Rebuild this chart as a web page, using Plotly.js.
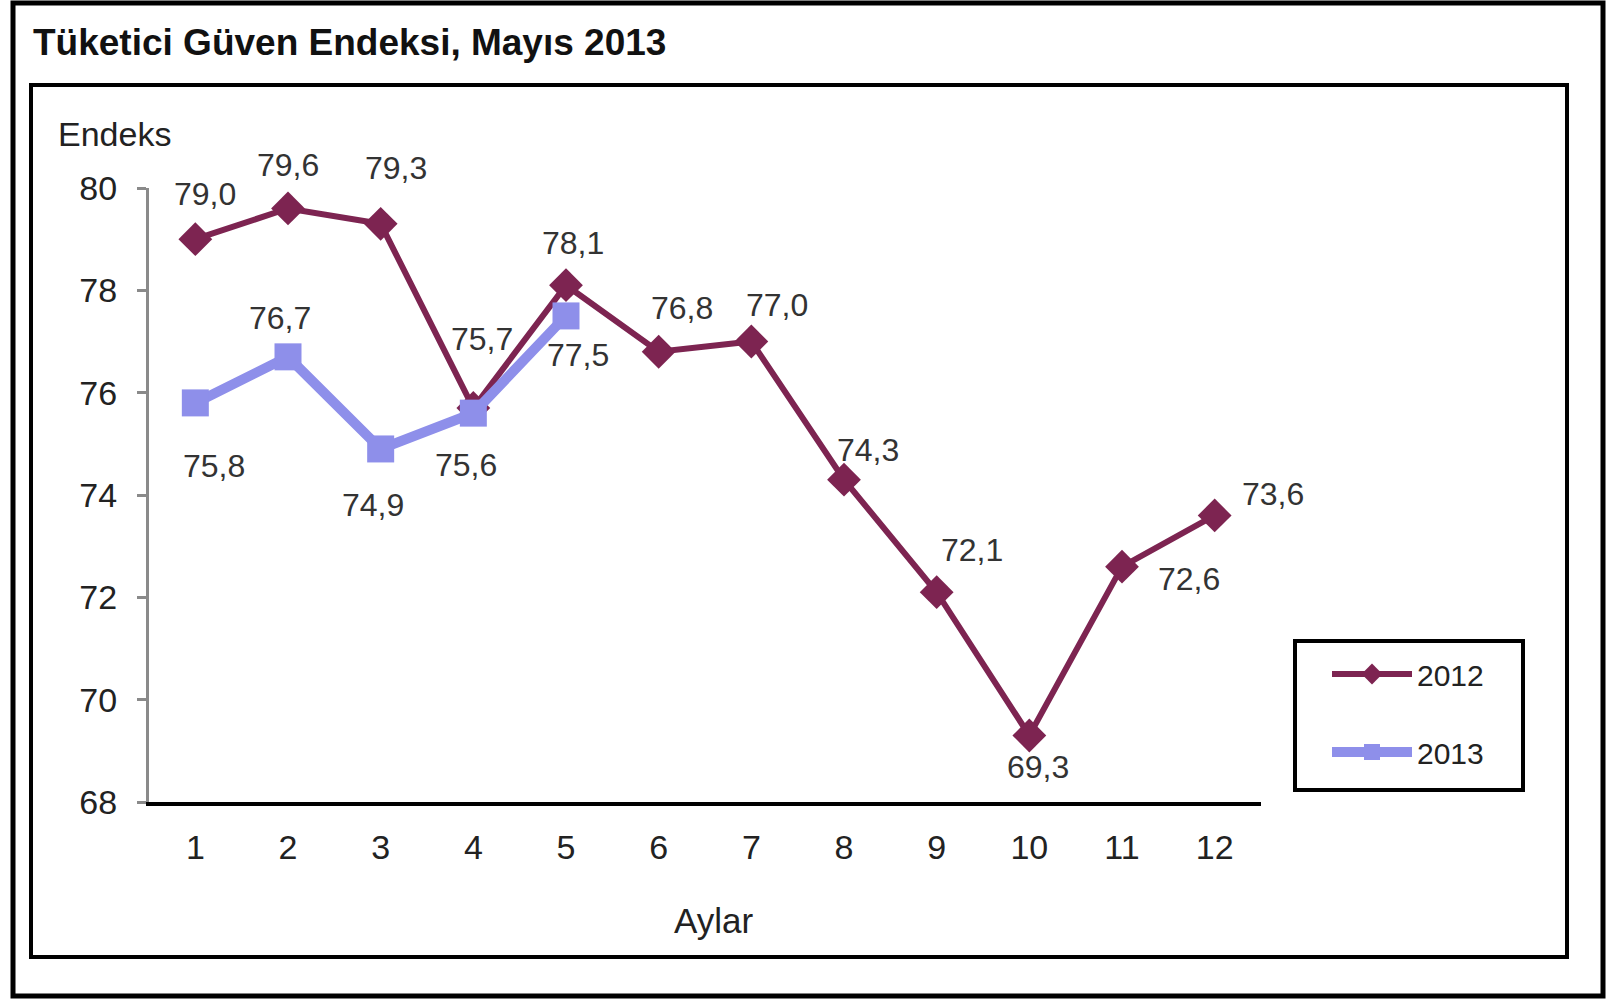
<!DOCTYPE html>
<html>
<head>
<meta charset="utf-8">
<script src="https://cdn.plot.ly/plotly-3.0.1.min.js"></script>
<style>
  html, body { margin: 0; padding: 0; background: #ffffff; }
  #chart { width: 1614px; height: 999px; }
</style>
</head>
<body>
<div id="chart"></div>
<script>
// ---- data ----
const months = [1, 2, 3, 4, 5, 6, 7, 8, 9, 10, 11, 12];
const monthLabels = ["1", "2", "3", "4", "5", "6", "7", "8", "9", "10", "11", "12"];
const values2012 = [79.0, 79.6, 79.3, 75.7, 78.1, 76.8, 77.0, 74.3, 72.1, 69.3, 72.6, 73.6];
const months2013 = [1, 2, 3, 4, 5];
const values2013 = [75.8, 76.7, 74.9, 75.6, 77.5];
const yTicks = [68, 70, 72, 74, 76, 78, 80];
const seriesNames = ["2012", "2013"];

// ---- label offsets (px) ----
const shift2012 = [[10, 45], [0, 43], [15, 56], [9, 69], [7, 42], [23, 44], [26, 37], [24, 30], [35, 42], [9, -32], [67, -12], [58, 21]];
const shift2013 = [[19, -63], [-8, 39], [-8, -56], [-7, -52], [12, -39]];

const FONT = '"Liberation Sans", Arial, sans-serif';
const c2012 = '#7d2451';
const c2013 = '#8e8fea';

// plot area in pixels
const L = 149, R = 1261, T = 188, B = 802;
const W = 1614, H = 999;
const px2x = p => (p - L) / (R - L);
const px2y = p => (B - p) / (B - T);

const fmt = v => v.toFixed(1).replace('.', ',');

const annotations = [];
values2012.forEach((v, i) => {
  annotations.push({
    x: months[i], y: v, xref: 'x', yref: 'y', text: fmt(v), showarrow: false,
    xshift: shift2012[i][0], yshift: shift2012[i][1],
    font: { family: FONT, size: 32, color: '#333333' }
  });
});
values2013.forEach((v, i) => {
  annotations.push({
    x: months2013[i], y: v, xref: 'x', yref: 'y', text: fmt(v), showarrow: false,
    xshift: shift2013[i][0], yshift: shift2013[i][1],
    font: { family: FONT, size: 32, color: '#333333' }
  });
});
annotations.push({
  x: px2x(56), y: px2y(134), xref: 'paper', yref: 'paper', xanchor: 'left', yanchor: 'middle',
  text: 'Endeks', showarrow: false, font: { family: FONT, size: 34, color: '#222222' }
});
annotations.push({
  x: px2x(713), y: px2y(920), xref: 'paper', yref: 'paper', xanchor: 'center', yanchor: 'middle',
  text: 'Aylar', showarrow: false, font: { family: FONT, size: 35, color: '#222222' }
});
annotations.push({
  x: px2x(31), y: px2y(43), xref: 'paper', yref: 'paper', xanchor: 'left', yanchor: 'middle',
  text: '<b>Tüketici Güven Endeksi, Mayıs 2013</b>', showarrow: false,
  font: { family: FONT, size: 37, color: '#111111' }
});

const shapes = [
  { type: 'rect', xref: 'paper', yref: 'paper', x0: px2x(13), x1: px2x(1603), y0: px2y(3), y1: px2y(996),
    line: { color: '#000000', width: 5 }, fillcolor: 'rgba(0,0,0,0)', layer: 'below' },
  { type: 'rect', xref: 'paper', yref: 'paper', x0: px2x(31), x1: px2x(1567), y0: px2y(85), y1: px2y(957),
    line: { color: '#000000', width: 4 }, fillcolor: 'rgba(0,0,0,0)', layer: 'below' },
  // legend frame
  { type: 'rect', xref: 'paper', yref: 'paper', x0: px2x(1295), x1: px2x(1523), y0: px2y(641), y1: px2y(790),
    line: { color: '#000000', width: 4 }, fillcolor: 'rgba(0,0,0,0)', layer: 'above' }
];

const traces = [
  {
    x: months, y: values2012, name: seriesNames[0], type: 'scatter', mode: 'lines+markers',
    line: { color: c2012, width: 6 },
    marker: { symbol: 'diamond', size: 26, color: c2012 },
    legendgroup: 'a'
  },
  {
    x: months2013, y: values2013, name: seriesNames[1], type: 'scatter', mode: 'lines+markers',
    line: { color: c2013, width: 10 },
    marker: { symbol: 'square', size: 27, color: c2013 },
    legendgroup: 'b'
  }
];

const layout = {
  width: W, height: H,
  margin: { l: L, r: W - R, t: T, b: H - B, pad: 0 },
  paper_bgcolor: '#ffffff', plot_bgcolor: '#ffffff',
  showlegend: true,
  font: { family: FONT, color: '#222222' },
  xaxis: {
    type: 'linear', range: [0.5, 12.5], tickvals: months, ticktext: monthLabels,
    showgrid: false, zeroline: false, showline: true, linecolor: '#000000', linewidth: 4,
    ticks: '', ticklabelstandoff: 12,
    tickfont: { family: FONT, size: 34, color: '#222222' },
    fixedrange: true
  },
  yaxis: {
    range: [68, 80], tickvals: yTicks, ticktext: yTicks.map(String),
    showgrid: false, zeroline: false, showline: true, linecolor: '#8a8a8a', linewidth: 3,
    ticks: 'outside', ticklen: 9, tickwidth: 3, tickcolor: '#8a8a8a', ticklabelstandoff: 13,
    tickfont: { family: FONT, size: 34, color: '#222222' },
    fixedrange: true
  },
  legend: {
    x: px2x(1327), y: px2y(648), xanchor: 'left', yanchor: 'top',
    bgcolor: 'rgba(0,0,0,0)', borderwidth: 0,
    font: { family: FONT, size: 30, color: '#222222' },
    traceorder: 'grouped', tracegroupgap: 36, itemwidth: 80
  },
  annotations: annotations,
  shapes: shapes
};

Plotly.newPlot('chart', traces, layout, { displayModeBar: false, staticPlot: true });
</script>
</body>
</html>
